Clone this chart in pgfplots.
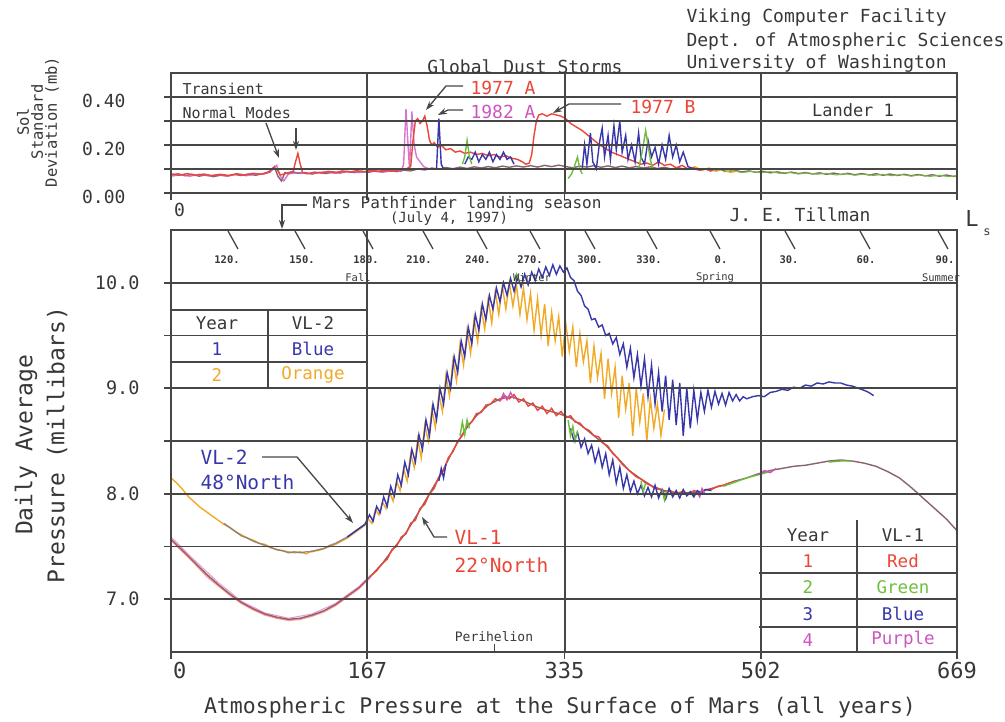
\documentclass[border=0pt]{standalone}
\usepackage{pgfplots}
\pgfplotsset{compat=1.18}
\usepackage{fontspec}
\setmainfont{DejaVu Sans Mono}
\usetikzlibrary{arrows.meta}
\definecolor{gridc}{RGB}{70,70,70}
\definecolor{txt}{RGB}{55,55,55}
\definecolor{cred}{RGB}{235,70,55}
\definecolor{corange}{RGB}{240,170,40}
\definecolor{cblue}{RGB}{55,55,170}
\definecolor{cgreen}{RGB}{110,190,60}
\definecolor{cpurple}{RGB}{205,85,190}
\definecolor{cbase}{RGB}{135,100,105}
\definecolor{cbase2}{RGB}{130,115,120}
\newcommand\fs[1]{\fontsize{#1}{#1}\selectfont}
\begin{document}
\begin{tikzpicture}[x=1pt,y=1pt]
\useasboundingbox (0,0) rectangle (1005,722);
\pgfplotsset{
  panel/.style={
    scale only axis, width=786pt, xmin=0, xmax=669,
    axis line style={line width=1.8pt, gridc},
    grid=major, major grid style={line width=1.9pt, gridc},
    tick style={line width=1.8pt, gridc},
    tick align=outside, major tick length=7pt,
    xtick pos=bottom, ytick pos=left,
    xtick={0,167,335,502,669},
    /pgf/number format/assume math mode=true,
    ticklabel style={text=txt},
    axis on top,
  },
  d/.style={no marks, line width=1.4pt},
}
% ---------------- bottom panel ----------------
\begin{axis}[panel, at={(171pt,70pt)}, anchor=south west, height=422pt,
  ymin=6.5, ymax=10.5, ytick={7,7.5,8,8.5,9,9.5,10},
  yticklabels={7.0,,8.0,,9.0,,10.0},
  xticklabels={\makebox[0pt][l]{\hspace{2pt}0},167,335,502,669},
  yticklabel style={font=\fs{18.5}, xshift=-21pt},
  xticklabel style={font=\fs{22}},
]
% VL-1 base (overlap of years)
\addplot[d, cbase] coordinates {(0,7.57)(10,7.46)(20,7.35)(30,7.24)(40,7.14)(50,7.05)(60,6.97)(70,6.91)(80,6.86)(90,6.83)(100,6.81)(110,6.82)(120,6.85)(130,6.89)(140,6.95)(150,7.03)(160,7.11)(170,7.22)(180,7.34)(190,7.49)(200,7.63)(210,7.81)(220,8.00)(230,8.19)(240,8.41)(250,8.60)(260,8.74)(270,8.84)(280,8.90)(290,8.92)(300,8.88)(310,8.83)(320,8.79)(330,8.76)(340,8.72)(350,8.64)(360,8.55)(370,8.46)(380,8.34)(390,8.22)(400,8.14)(410,8.07)(420,8.03)(430,8.01)(440,8.01)(450,8.02)(460,8.05)(470,8.08)(480,8.12)(490,8.15)(500,8.19)(510,8.22)(520,8.24)(530,8.26)(540,8.27)(550,8.29)(560,8.31)(570,8.32)(580,8.31)(590,8.29)(600,8.26)(610,8.21)(620,8.15)(630,8.06)(640,7.96)(650,7.86)(660,7.76)(669,7.65)};
% VL-1 purple year 4 early
\addplot[d, cpurple, opacity=0.6, line width=1pt] coordinates {(0,7.59)(20,7.37)(40,7.16)(60,6.98)(80,6.87)(100,6.82)(120,6.86)(140,6.96)(160,7.12)(170,7.23)};
% VL-1 red year 1
\addplot[d, cred, opacity=0.55] coordinates {(0,7.56)(10,7.45)(20,7.34)(30,7.22)(40,7.13)(50,7.04)(60,6.96)(70,6.90)(80,6.85)(90,6.82)(100,6.80)(110,6.81)(120,6.84)(130,6.88)(140,6.94)(150,7.02)(160,7.10)(170,7.21)};
\addplot[d, cred] coordinates {(170,7.22)(175,7.27)(180,7.34)(184,7.38)(188,7.47)(192,7.50)(196,7.59)(200,7.62)(204,7.72)(208,7.75)(212,7.86)(216,7.90)(220,8.00)(224,8.05)(228,8.16)(232,8.22)(236,8.34)(240,8.40)(244,8.50)(248,8.55)(252,8.65)(256,8.68)(260,8.76)(264,8.77)(268,8.84)(272,8.85)(276,8.90)(280,8.88)(284,8.93)(288,8.90)(292,8.94)(296,8.87)(300,8.90)(304,8.83)(308,8.86)(312,8.79)(316,8.83)(320,8.76)(324,8.81)(328,8.74)(332,8.78)(336,8.72)(340,8.74)(344,8.68)(348,8.67)(352,8.62)(356,8.60)(360,8.55)(364,8.54)(368,8.48)(372,8.45)(376,8.38)(380,8.34)(384,8.28)(388,8.24)(392,8.20)(396,8.16)(400,8.14)(404,8.10)(408,8.08)(412,8.05)(416,8.04)(420,8.02)(425,8.03)(430,8.00)(435,8.02)(440,7.99)(445,8.03)(450,8.01)(455,8.04)(460,8.04)(465,8.07)(470,8.08)(475,8.10)(480,8.12)};
% VL-1 blue year 3
\addplot[d, cblue] coordinates {(340,8.62)(343,8.50)(346,8.58)(349,8.44)(352,8.52)(355,8.38)(358,8.46)(361,8.30)(364,8.42)(367,8.25)(370,8.38)(373,8.18)(376,8.32)(379,8.10)(382,8.25)(385,8.05)(388,8.18)(391,8.02)(394,8.12)(397,8.00)(400,8.08)(403,7.98)(406,8.06)(409,7.97)(412,8.08)(415,7.96)(418,8.04)(421,7.95)(424,8.05)(427,7.97)(430,8.03)(433,7.96)(436,8.04)(439,7.98)(442,8.02)(445,7.97)(448,8.03)(451,8.00)(455,8.04)(460,8.03)};
\addplot[d, cblue] coordinates {(228,8.12)(230,8.24)(232,8.15)(234,8.28)};
% VL-1 green year 2
\addplot[d, cgreen] coordinates {(246,8.55)(248,8.68)(250,8.56)(252,8.70)(254,8.62)};
\addplot[d, cgreen] coordinates {(338,8.70)(340,8.55)(342,8.64)(344,8.50)(346,8.60)};
\addplot[d, cgreen] coordinates {(400,8.12)(402,8.02)(404,8.10)};
\addplot[d, cgreen] coordinates {(418,8.04)(420,7.94)(422,8.03)};
\addplot[d, cgreen] coordinates {(470,8.07)(480,8.11)(490,8.15)(500,8.18)(510,8.21)};
\addplot[d, cgreen] coordinates {(560,8.30)(570,8.31)(580,8.31)};
% VL-1 purple year 4 pieces
\addplot[d, cpurple] coordinates {(280,8.88)(283,8.95)(286,8.89)(289,8.96)(292,8.90)};
\addplot[d, cpurple] coordinates {(448,8.01)(450,7.97)(452,8.05)(455,7.99)};
\addplot[d, cpurple] coordinates {(500,8.18)(505,8.22)(510,8.20)(515,8.24)};
% VL-2 orange year 2
\addplot[d, corange] coordinates {(0,8.15)(5,8.10)(10,8.04)(15,7.97)(20,7.92)(25,7.87)(30,7.83)(35,7.79)(40,7.75)(45,7.71)(50,7.68)(55,7.64)(60,7.61)(65,7.58)(70,7.56)(75,7.53)(80,7.52)(85,7.49)(90,7.47)(95,7.46)(100,7.45)(105,7.44)(110,7.45)(115,7.43)(120,7.46)(125,7.46)(130,7.48)(135,7.50)(140,7.52)(145,7.55)(150,7.58)(155,7.62)(160,7.66)(165,7.70)(168,7.76)(171,7.72)(174,7.85)(177,7.80)(180,7.92)(183,7.86)(186,8.02)(189,7.93)(192,8.12)(195,8.03)(198,8.24)(201,8.12)(204,8.38)(207,8.25)(210,8.52)(213,8.34)(216,8.65)(219,8.50)(222,8.80)(225,8.63)(228,8.95)(231,8.78)(234,9.12)(237,8.93)(240,9.27)(243,9.07)(246,9.42)(249,9.22)(252,9.55)(255,9.33)(258,9.66)(261,9.44)(264,9.76)(267,9.56)(270,9.85)(273,9.62)(276,9.92)(279,9.70)(282,9.97)(285,9.75)(288,10.0)(291,9.78)(294,9.98)(297,9.70)(300,9.95)(303,9.65)(306,9.90)(309,9.55)(312,9.85)(315,9.50)(318,9.80)(321,9.40)(324,9.72)(327,9.45)(330,9.68)(333,9.30)(336,9.62)(339,9.35)(342,9.58)(345,9.20)(348,9.52)(351,9.25)(354,9.45)(357,9.05)(360,9.40)(363,9.10)(366,9.33)(369,8.90)(372,9.28)(375,8.95)(378,9.20)(381,8.72)(384,9.12)(387,8.80)(390,9.05)(393,8.55)(396,9.00)(399,8.68)(402,8.95)(405,8.50)(408,8.90)(411,8.62)(414,8.85)(417,8.55)(420,8.80)};
% VL-2 blue year 1
\addplot[d, cbase2, opacity=0.8] coordinates {(45,7.72)(50,7.68)(55,7.64)(60,7.60)(65,7.58)(70,7.55)(75,7.53)(80,7.51)(85,7.49)(90,7.47)(95,7.46)(100,7.44)(105,7.45)(110,7.44)(115,7.45)(120,7.45)(125,7.47)(130,7.48)(135,7.51)(140,7.53)(145,7.56)(150,7.59)(155,7.63)(160,7.67)(165,7.71)};
\addplot[d, cblue] coordinates {(150,7.59)(155,7.63)(160,7.67)(165,7.71)(169,7.80)(172,7.74)(175,7.88)(178,7.82)(181,7.97)(184,7.88)(187,8.07)(190,7.98)(193,8.18)(196,8.08)(199,8.30)(202,8.18)(205,8.42)(208,8.30)(211,8.56)(214,8.42)(217,8.70)(220,8.55)(223,8.85)(226,8.70)(229,9.00)(232,8.85)(235,9.15)(238,9.00)(241,9.30)(244,9.15)(247,9.45)(250,9.30)(253,9.58)(256,9.42)(259,9.70)(262,9.55)(265,9.80)(268,9.65)(271,9.88)(274,9.75)(277,9.95)(280,9.82)(283,10.0)(286,9.88)(289,10.04)(292,9.92)(295,10.06)(298,9.96)(301,10.08)(304,9.98)(307,10.10)(310,10.02)(313,10.13)(316,10.05)(319,10.15)(322,10.07)(325,10.17)(328,10.08)(331,10.16)(334,10.10)(337,10.14)(340,10.05)(343,10.02)(346,9.92)(349,9.88)(352,9.78)(355,9.75)(358,9.65)(361,9.66)(364,9.58)(367,9.60)(370,9.50)(373,9.52)(376,9.42)(379,9.48)(382,9.32)(385,9.42)(388,9.20)(391,9.38)(394,9.10)(397,9.32)(400,9.02)(403,9.28)(406,8.92)(409,9.22)(412,8.85)(415,9.15)(418,8.78)(421,9.12)(424,8.70)(427,9.08)(430,8.65)(433,9.05)(436,8.55)(439,9.00)(442,8.62)(445,8.98)(448,8.70)(451,8.96)(454,8.78)(457,8.98)(460,8.82)(463,8.97)(466,8.85)(469,8.95)(472,8.84)(475,8.96)(478,8.88)(481,8.94)(484,8.88)(487,8.92)(490,8.90)(495,8.92)(500,8.93)(505,8.92)(510,8.96)(515,8.97)(520,8.99)(525,8.98)(530,9.01)(535,9.00)(540,9.03)(545,9.02)(550,9.05)(555,9.04)(560,9.06)(565,9.05)(570,9.05)(575,9.03)(580,9.02)(585,9.00)(590,8.98)(594,8.96)(598,8.93)};
\addplot[d, cgreen] coordinates {(292,10.02)(294,10.08)(296,10.0)};
\end{axis}
% ---------------- top panel ----------------
\begin{axis}[panel, at={(171pt,529pt)}, anchor=south west, height=120pt,
  ymin=0, ymax=0.5, ytick={0,0.1,0.2,0.3,0.4},
  yticklabels={0.00,,0.20,,0.40},
  xticklabels={\makebox[0pt][l]{\hspace{3pt}0},,,,},
  yticklabel style={font=\fs{18}, xshift=-35pt, yshift=-4pt},
  xticklabel style={font=\fs{18}},
]
\addplot[d, cbase] coordinates {(0,.075)(6,.080)(12,.072)(18,.078)(24,.070)(30,.076)(36,.068)(42,.074)(48,.071)(54,.077)(60,.073)(66,.079)(72,.074)(78,.080)(84,.086)(88,.110)(91,.070)(94,.050)(97,.085)(100,.080)(104,.088)(108,.082)(114,.085)(120,.079)(126,.086)(132,.081)(138,.088)(144,.083)(150,.090)(156,.085)(162,.091)(168,.086)(174,.092)(180,.088)(186,.094)(192,.089)(198,.095)(204,.092)(210,.100)(216,.096)(222,.104)(228,.099)(234,.106)(240,.101)(246,.108)(252,.102)(258,.109)(264,.104)(270,.110)(276,.105)(282,.112)(288,.107)(294,.113)(300,.108)(306,.114)(312,.108)(318,.115)(324,.110)(330,.116)(336,.110)(342,.105)(348,.112)(354,.108)(360,.114)(366,.107)(372,.113)(378,.106)(384,.112)(390,.105)(396,.110)(402,.104)(408,.109)(414,.102)(420,.107)(426,.100)(432,.105)(438,.098)(444,.102)(450,.095)(456,.100)(462,.093)(468,.097)(474,.090)(480,.094)(486,.088)(492,.092)(498,.086)(504,.090)(510,.084)(516,.088)(522,.082)(528,.087)(534,.081)(540,.085)(546,.079)(552,.084)(558,.078)(564,.083)(570,.077)(576,.082)(582,.076)(588,.081)(594,.075)(600,.080)(606,.074)(612,.079)(618,.073)(624,.078)(630,.072)(636,.077)(642,.071)(648,.076)(654,.070)(660,.075)(666,.069)(669,.072)};
\addplot[d, cgreen, line width=1pt] coordinates {(470,.088)(478,.093)(486,.085)(494,.090)(502,.084)(510,.089)(518,.082)(526,.086)(534,.079)(542,.084)(550,.078)(558,.082)(566,.075)(574,.080)(582,.074)(590,.079)(598,.073)(606,.078)(614,.072)(622,.077)(630,.070)(638,.076)(646,.069)(654,.074)(662,.068)(669,.072)};
\addplot[d, corange, line width=1pt] coordinates {(440,.10)(446,.11)(452,.095)(458,.105)(464,.09)(470,.10)(476,.085)(482,.09)};
\addplot[d, cpurple, opacity=0.8] coordinates {(0,.07)(8,.076)(16,.07)(24,.078)(32,.071)(40,.077)(48,.07)(56,.079)(64,.072)(72,.078)(80,.08)(86,.095)(90,.115)(93,.07)(96,.05)(100,.08)(110,.085)(120,.08)(130,.088)(140,.082)(150,.09)(160,.085)(170,.092)(180,.087)(190,.093)(196,.09)(198,.12)(200,.35)(202,.18)(203,.10)(205,.34)(207,.20)(209,.15)(212,.13)(215,.11)(220,.10)};
\addplot[d, cred] coordinates {(0,.08)(7,.074)(14,.081)(21,.073)(28,.079)(35,.072)(42,.078)(49,.073)(56,.08)(63,.075)(70,.082)(77,.078)(83,.088)(87,.105)(90,.10)(93,.075)(97,.08)(100,.085)(104,.09)(106,.13)(108,.165)(110,.12)(112,.085)(116,.08)(122,.087)(128,.083)(134,.09)(140,.085)(146,.092)(152,.087)(158,.093)(164,.088)(170,.094)(176,.09)(182,.095)(188,.091)(194,.096)(200,.10)(204,.11)(206,.22)(208,.30)(210,.31)(212,.29)(214,.30)(216,.32)(218,.28)(220,.22)(222,.20)(224,.21)(227,.19)(230,.20)(234,.18)(238,.185)(242,.17)(246,.175)(250,.165)(255,.17)(260,.16)(265,.165)(270,.155)(275,.16)(280,.15)(285,.155)(290,.145)(295,.14)(299,.13)(302,.12)(305,.125)(307,.16)(309,.24)(311,.30)(313,.325)(316,.33)(320,.32)(324,.33)(328,.325)(332,.32)(336,.31)(340,.29)(345,.275)(350,.26)(355,.24)(360,.22)(365,.20)(370,.185)(375,.17)(380,.16)(385,.15)(390,.14)(395,.13)(400,.12)(405,.125)(410,.115)(415,.13)(420,.115)(425,.12)(430,.105)(435,.115)(440,.10)(445,.105)(450,.095)(455,.10)(460,.09)};
\addplot[d, cblue] coordinates {(226,.10)(228,.31)(230,.12)(232,.10)};
\addplot[d, cblue] coordinates {(250,.12)(253,.15)(256,.14)(259,.17)(262,.13)(265,.16)(268,.14)(271,.17)(274,.13)(277,.16)(280,.14)(283,.17)(286,.14)(289,.15)(292,.12)};
\addplot[d, cblue] coordinates {(350,.10)(352,.20)(354,.12)(357,.25)(359,.13)(362,.10)(365,.22)(367,.27)(369,.15)(372,.24)(374,.14)(377,.28)(379,.18)(382,.30)(384,.17)(387,.24)(389,.14)(392,.20)(395,.13)(398,.25)(400,.15)(403,.12)(406,.22)(409,.15)(412,.19)(415,.12)(418,.20)(421,.14)(424,.24)(427,.15)(430,.20)(433,.13)(436,.17)(440,.11)(445,.10)};
\addplot[d, cgreen] coordinates {(248,.12)(250,.15)(252,.22)(254,.15)(256,.12)};
\addplot[d, cgreen] coordinates {(338,.06)(341,.08)(344,.12)(346,.15)(348,.10)(350,.08)};
\addplot[d, cgreen] coordinates {(398,.10)(401,.17)(404,.26)(406,.20)(408,.14)(410,.10)};
\end{axis}
% ---------------- annotations (pixel coordinates, y down) ----------------
\begin{scope}[shift={(0,722)}, y=-1pt]
\tikzset{lead/.style={gridc, line width=1.3pt, -{Stealth[length=9pt,width=6pt]}}}
\node[font=\fs{18}, anchor=west, text=txt] at (683,18) {Viking Computer Facility};
\node[font=\fs{18}, anchor=west, text=txt] at (683,42) {Dept. of Atmospheric Sciences};
\node[font=\fs{18}, anchor=west, text=txt] at (683,64) {University of Washington};
\node[font=\fs{18}, text=txt] at (525,67) {Global Dust Storms};
\node[font=\fs{15}, anchor=west, text=txt] at (179,89) {Transient};
\node[font=\fs{15}, anchor=west, text=txt] at (179,113) {Normal Modes};
\draw[lead] (266,123) -- (279,158);
\draw[lead] (296,128) -- (296,150);
\node[font=\fs{18}, anchor=west, text=cred] at (467,88) {1977 A};
\draw[lead] (463,86) -- (446,86) -- (426,110);
\node[font=\fs{18}, anchor=west, text=cpurple] at (467,112) {1982 A};
\draw[lead] (463,110) -- (448,110) -- (438,115);
\node[font=\fs{18}, anchor=west, text=cred] at (627,107) {1977 B};
\draw[lead] (621,104) -- (569,104) -- (553,113);
\node[font=\fs{17}, text=txt] at (853,110) {Lander 1};
\node[font=\fs{16}, anchor=west, text=txt] at (309,204) {Mars Pathfinder landing season};
\node[font=\fs{14}, text=txt] at (449,219) {(July 4, 1997)};
\draw[lead] (307,205) -- (282,205) -- (282,229);
\node[font=\fs{18}, text=txt] at (800,215) {J. E. Tillman};
\node[font=\fs{22}, text=txt] at (972,218) {L};
\node[font=\fs{12}, text=txt] at (987,232) {s};
% Ls scale
\foreach \p/\c/\t in {228/227/120.,295/302/150.,363/366/180.,423/419/210.,477/478/240.,530/530/270.,585/590/300.,647/649/330.,710/721/0.,785/789/30.,860/866/60.,938/945/90.}{
  \draw[gridc, line width=1.3pt] (\p,231) -- (\p+10,249);
  \node[font=\bfseries\fs{10.5}, text=txt] at (\c,260) {\t};
}
\node[font=\fs{10.5}, text=txt] at (358,278) {Fall};
\node[font=\fs{10.5}, text=txt] at (532,278) {Winter};
\node[font=\fs{10.5}, text=txt] at (715,278) {Spring};
\node[font=\fs{10.5}, text=txt] at (941,278) {Summer};
% axis titles
\node[font=\fontsize{15.5}{14}\selectfont, rotate=90, align=center, text=txt] at (38,122) {Sol\\Standard\\Deviation (mb)};
\node[font=\fontsize{23}{32}\selectfont, rotate=90, align=center, text=txt] at (41,445) {Daily Average\\Pressure (millibars)};
\node[font=\fs{21.5}, text=txt] at (560,708) {Atmospheric Pressure at the Surface of Mars (all years)};
% VL-2 table
\draw[gridc, line width=1.8pt] (171,310) -- (367,310) (171,362) -- (367,362) (268,310) -- (268,388);
\node[font=\fs{17.5}, text=txt] at (217,323) {Year};
\node[font=\fs{17.5}, text=txt] at (313,323) {VL-2};
\node[font=\fs{17.5}, text=cblue] at (217,349) {1};
\node[font=\fs{17.5}, text=cblue] at (313,349) {Blue};
\node[font=\fs{17.5}, text=corange] at (217,375) {2};
\node[font=\fs{17.5}, text=corange] at (313,375) {Orange};
% VL-1 table
\draw[gridc, line width=1.8pt] (759,573) -- (957,573) (759,627) -- (957,627) (857,520) -- (857,652);
\node[font=\fs{17.5}, text=txt] at (808,535) {Year};
\node[font=\fs{17.5}, text=txt] at (903,535) {VL-1};
\node[font=\fs{17.5}, text=cred] at (808,561) {1};
\node[font=\fs{17.5}, text=cred] at (903,561) {Red};
\node[font=\fs{17.5}, text=cgreen] at (808,587) {2};
\node[font=\fs{17.5}, text=cgreen] at (903,587) {Green};
\node[font=\fs{17.5}, text=cblue] at (808,614) {3};
\node[font=\fs{17.5}, text=cblue] at (903,614) {Blue};
\node[font=\fs{17.5}, text=cpurple] at (808,640) {4};
\node[font=\fs{17.5}, text=cpurple] at (903,640) {Purple};
% lander labels
\node[font=\fs{19.5}, anchor=west, text=cblue] at (197,457) {VL-2};
\node[font=\fs{19.5}, anchor=west, text=cblue] at (197,482) {48°North};
\draw[lead] (262,457) -- (297,457) -- (353,523);
\node[font=\fs{19.5}, anchor=west, text=cred] at (451,537) {VL-1};
\node[font=\fs{19.5}, anchor=west, text=cred] at (451,565) {22°North};
\draw[lead] (447,537) -- (434,537) -- (422,517);
\node[font=\fs{13}, text=txt] at (494,637) {Perihelion};
\draw[gridc, line width=1pt] (494,644) -- (494,651);
\end{scope}
\end{tikzpicture}
\end{document}
